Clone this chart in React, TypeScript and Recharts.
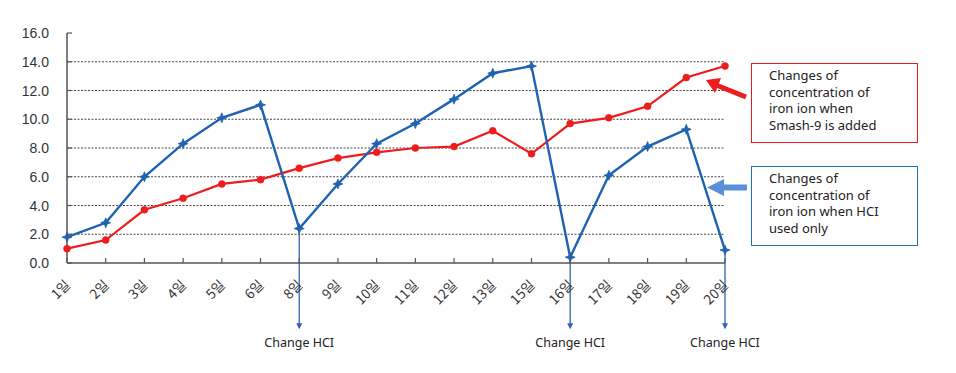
import { LineChart, Line, XAxis, YAxis, CartesianGrid, ReferenceLine } from "recharts"

const days = ["1일", "2일", "3일", "4일", "5일", "6일", "8일", "9일", "10일", "11일", "12일", "13일", "15일", "16일", "17일", "18일", "19일", "20일"]
const hclOnly = [1.8, 2.8, 6.0, 8.3, 10.1, 11.0, 2.4, 5.5, 8.3, 9.7, 11.4, 13.2, 13.7, 0.4, 6.1, 8.1, 9.3, 0.9]
const smash9 = [1.0, 1.6, 3.7, 4.5, 5.5, 5.8, 6.6, 7.3, 7.7, 8.0, 8.1, 9.2, 7.6, 9.7, 10.1, 10.9, 12.9, 13.7]
const yTicks = [0, 2, 4, 6, 8, 10, 12, 14, 16]
const hclChangeDays = ["8일", "16일", "20일"]
const arrowBottom = -4.6

const BLUE = "#1f62b0"
const RED = "#ee1c1c"
const AXIS = "#555"

const data = days.map((day, i) => ({ day, hcl: hclOnly[i], smash: smash9[i] }))

function StarDot(props: any) {
  const { cx, cy } = props
  if (cx == null || cy == null) return null
  const s = 5
  const k = 1.4
  const d = `M${cx},${cy - s} L${cx + k},${cy - k} L${cx + s},${cy} L${cx + k},${cy + k} L${cx},${cy + s} L${cx - k},${cy + k} L${cx - s},${cy} L${cx - k},${cy - k} Z`
  return <path d={d} fill={BLUE} stroke={BLUE} strokeWidth={0.8} />
}

function XTick(props: any) {
  const { x, y, payload } = props
  return (
    <g>
      <line x1={x} x2={x} y1={y} y2={y - 5} stroke={AXIS} strokeWidth={1.2} />
      <text
        x={x + 4}
        y={y + 23}
        textAnchor="end"
        transform={`rotate(-45 ${x + 4} ${y + 23})`}
        fontSize={13.5}
        fill="#333"
        fontFamily="'Noto Sans CJK KR', 'Noto Sans', sans-serif"
      >
        {payload.value}
      </text>
    </g>
  )
}

function YTick(props: any) {
  const { x, y, payload } = props
  return (
    <g>
      <line x1={x} x2={x + 5} y1={y} y2={y} stroke={AXIS} strokeWidth={1.2} />
      <text
        x={x - 18}
        y={y}
        dy="0.36em"
        textAnchor="end"
        fontSize={14}
        fill="#333"
        fontFamily="'Liberation Sans', Arial, sans-serif"
      >
        {payload.value.toFixed(1)}
      </text>
    </g>
  )
}

function ChangeArrow(props: any) {
  const { x1, y1, x2, y2 } = props
  const top = Math.min(y1, y2)
  const bottom = Math.max(y1, y2)
  return (
    <g>
      <line x1={x1} x2={x2} y1={top} y2={bottom - 2} stroke="#3560b0" strokeWidth={1.3} />
      <path d={`M${x1 - 3},${bottom - 6} L${x1},${bottom} L${x1 + 3},${bottom - 6} Z`} fill="#3560b0" />
      <text
        x={x1}
        y={bottom + 18}
        textAnchor="middle"
        fontSize={12.5}
        fill="#222"
        fontFamily="'Noto Sans', 'Open Sans', sans-serif"
      >
        Change HCI
      </text>
    </g>
  )
}

const boxStyle = {
  position: "absolute" as const,
  left: 751,
  width: 167,
  height: 80,
  boxSizing: "border-box" as const,
  padding: "3px 0 0 17px",
  fontFamily: "'Noto Sans', 'Open Sans', sans-serif",
  fontSize: 13,
  lineHeight: "16.6px",
  color: "#222",
  background: "#fff",
}

export default function App() {
  return (
    <div style={{ position: "absolute", left: 0, top: 0, width: 956, height: 373, background: "#fff" }}>
      <LineChart width={956} height={373} data={data} margin={{ top: 33, right: 231, bottom: 0, left: 17 }}>
        <CartesianGrid
          horizontal
          vertical={false}
          stroke="#444"
          strokeDasharray="2 1.5"
          horizontalValues={yTicks.filter((t) => t > 0 && t < 16)}
        />
        <XAxis
          dataKey="day"
          interval={0}
          tickLine={false}
          tickSize={0}
          tickMargin={0}
          axisLine={{ stroke: AXIS, strokeWidth: 1.5 }}
          tick={<XTick />}
          height={110}
        />
        <YAxis
          domain={[0, 16]}
          ticks={yTicks}
          interval={0}
          width={50}
          tickLine={false}
          tickSize={0}
          tickMargin={0}
          axisLine={{ stroke: AXIS, strokeWidth: 1.5 }}
          tick={<YTick />}
        />
        {hclChangeDays.map((day) => (
          <ReferenceLine
            key={day}
            ifOverflow="visible"
            segment={[
              { x: day, y: hclOnly[days.indexOf(day)] },
              { x: day, y: arrowBottom },
            ]}
            shape={(p: any) => <ChangeArrow {...p} />}
          />
        ))}
        <Line
          dataKey="smash"
          stroke={RED}
          strokeWidth={2.2}
          dot={{ r: 3.5, fill: RED, stroke: RED, strokeWidth: 0.5 }}
          isAnimationActive={false}
        />
        <Line
          dataKey="hcl"
          stroke={BLUE}
          strokeWidth={2.4}
          dot={<StarDot />}
          isAnimationActive={false}
        />
      </LineChart>
      <svg width={956} height={373} style={{ position: "absolute", left: 0, top: 0, pointerEvents: "none" }}>
        <line x1={746} y1={97} x2={716} y2={85} stroke={RED} strokeWidth={5} />
        <path d="M706,80 L721,78 L715,93 Z" fill={RED} />
        <rect x={721} y={184.5} width={26} height={6} fill="#5a8fd9" />
        <path d="M707,187.5 L724,179 L724,196 Z" fill="#5a8fd9" />
      </svg>
      <div style={{ ...boxStyle, top: 63, border: "1.5px solid #e31b1b" }}>
        Changes of
        <br />
        concentration of
        <br />
        iron ion when
        <br />
        Smash-9 is added
      </div>
      <div style={{ ...boxStyle, top: 166, border: "1.5px solid #1f6fc0" }}>
        Changes of
        <br />
        concentration of
        <br />
        iron ion when HCI
        <br />
        used only
      </div>
    </div>
  )
}
